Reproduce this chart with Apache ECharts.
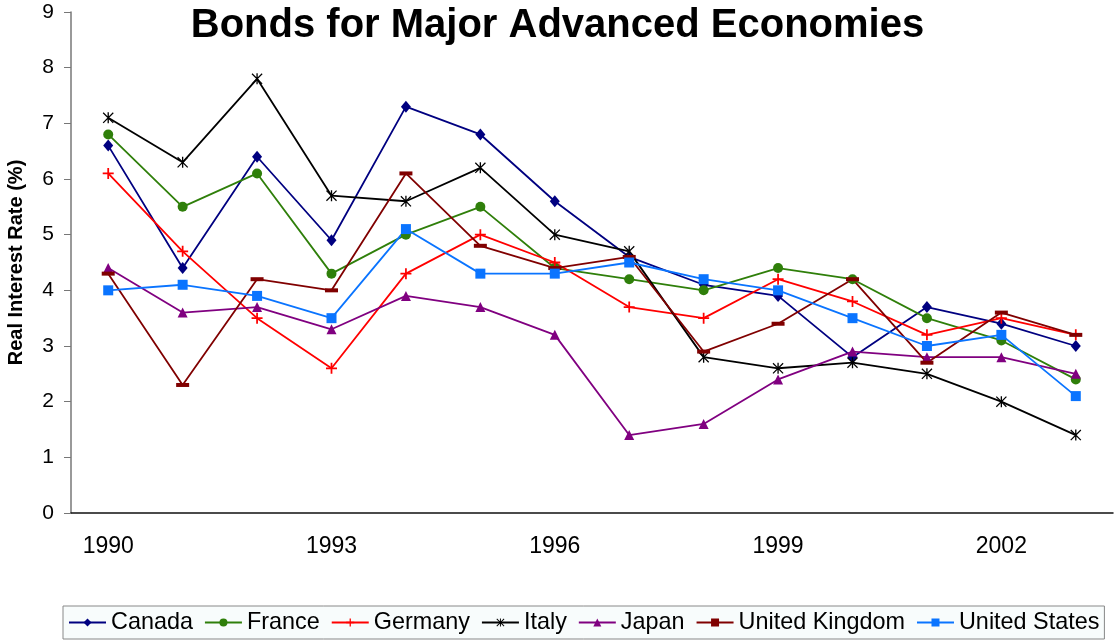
<!DOCTYPE html>
<html>
<head>
<meta charset="utf-8">
<title>Bonds for Major Advanced Economies</title>
<script src="https://cdn.jsdelivr.net/npm/echarts@6/dist/echarts.min.js"></script>
<style>
  html, body { margin: 0; padding: 0; background: #fff; }
  #chart { width: 1115px; height: 641px; }
</style>
</head>
<body>
<div id="chart"></div>
<script>
// real interest rates (%)
var years = ['1990', '1991', '1992', '1993', '1994', '1995', '1996', '1997', '1998', '1999', '2000', '2001', '2002', '2003'];
var canada = [6.6, 4.4, 6.4, 4.9, 7.3, 6.8, 5.6, 4.6, 4.1, 3.9, 2.8, 3.7, 3.4, 3.0];
var france = [6.8, 5.5, 6.1, 4.3, 5.0, 5.5, 4.4, 4.2, 4.0, 4.4, 4.2, 3.5, 3.1, 2.4];
var germany = [6.1, 4.7, 3.5, 2.6, 4.3, 5.0, 4.5, 3.7, 3.5, 4.2, 3.8, 3.2, 3.5, 3.2];
var italy = [7.1, 6.3, 7.8, 5.7, 5.6, 6.2, 5.0, 4.7, 2.8, 2.6, 2.7, 2.5, 2.0, 1.4];
var japan = [4.4, 3.6, 3.7, 3.3, 3.9, 3.7, 3.2, 1.4, 1.6, 2.4, 2.9, 2.8, 2.8, 2.5];
var uk = [4.3, 2.3, 4.2, 4.0, 6.1, 4.8, 4.4, 4.6, 2.9, 3.4, 4.2, 2.7, 3.6, 3.2];
var us = [4.0, 4.1, 3.9, 3.5, 5.1, 4.3, 4.3, 4.5, 4.2, 4.0, 3.5, 3.0, 3.2, 2.1];

// marker shapes that echarts does not have built in
var plusPath = 'path://M4.2,0h1.6v4.2h4.2v1.6h-4.2v4.2h-1.6v-4.2h-4.2v-1.6h4.2z';
var starPath = 'path://M4.4,0h1.2v10h-1.2z M0,0.8L0.8,0L10,9.2L9.2,10z M9.2,0L10,0.8L0.8,10L0,9.2z';
var dashPath = 'path://M0,0h10v3h-10z';

var chart = echarts.init(document.getElementById('chart'));

function line(name, data, color, symbol, size) {
  return {
    name: name,
    type: 'line',
    data: data,
    symbol: symbol,
    symbolSize: size,
    showAllSymbol: true,
    animation: false,
    lineStyle: { color: color, width: 1.8 },
    itemStyle: { color: color }
  };
}

chart.setOption({
  textStyle: { fontFamily: 'Liberation Sans, Arial, sans-serif' },
  title: {
    text: 'Bonds for Major Advanced Economies',
    left: 'center',
    top: 1,
    textStyle: { fontSize: 40, fontWeight: 'bold', color: '#000' }
  },
  grid: { left: 71, right: 2, top: 12, bottom: 128, outerBoundsMode: 'none' },
  xAxis: {
    type: 'category',
    data: years,
    boundaryGap: true,
    axisLine: { lineStyle: { color: '#111', width: 1.5 } },
    axisTick: { inside: true, length: 6, interval: 2, lineStyle: { color: '#888' } },
    axisLabel: { interval: 2, margin: 22, fontSize: 23, color: '#000' }
  },
  yAxis: {
    type: 'value',
    min: 0,
    max: 9,
    interval: 1,
    name: 'Real Interest Rate (%)',
    nameLocation: 'middle',
    nameRotate: 90,
    nameGap: 45,
    nameTextStyle: { fontSize: 20, fontWeight: 'bold', color: '#000' },
    splitLine: { show: false },
    axisLine: { show: true, lineStyle: { color: '#777', width: 1.5 } },
    axisTick: { show: true, length: 7, lineStyle: { color: '#777' } },
    axisLabel: { margin: 17, fontSize: 21, color: '#000' }
  },
  legend: {
    bottom: 2,
    left: 63,
    width: 1080,
    padding: [5, 5],
    itemGap: 11,
    itemWidth: 37,
    itemHeight: 10,
    backgroundColor: '#f8fcfc',
    borderColor: '#888',
    borderWidth: 1,
    borderRadius: 0,
    textStyle: { fontSize: 23.4, color: '#000' }
  },
  series: [
    line('Canada', canada, '#000080', 'diamond', [10, 12]),
    line('France', france, '#2f7f0a', 'circle', 10),
    line('Germany', germany, '#ff0000', plusPath, 11),
    line('Italy', italy, '#000000', starPath, 11),
    line('Japan', japan, '#800080', 'triangle', 10),
    line('United Kingdom', uk, '#800000', dashPath, [13, 4]),
    line('United States', us, '#0a74ff', 'rect', 10)
  ]
});
</script>
</body>
</html>
